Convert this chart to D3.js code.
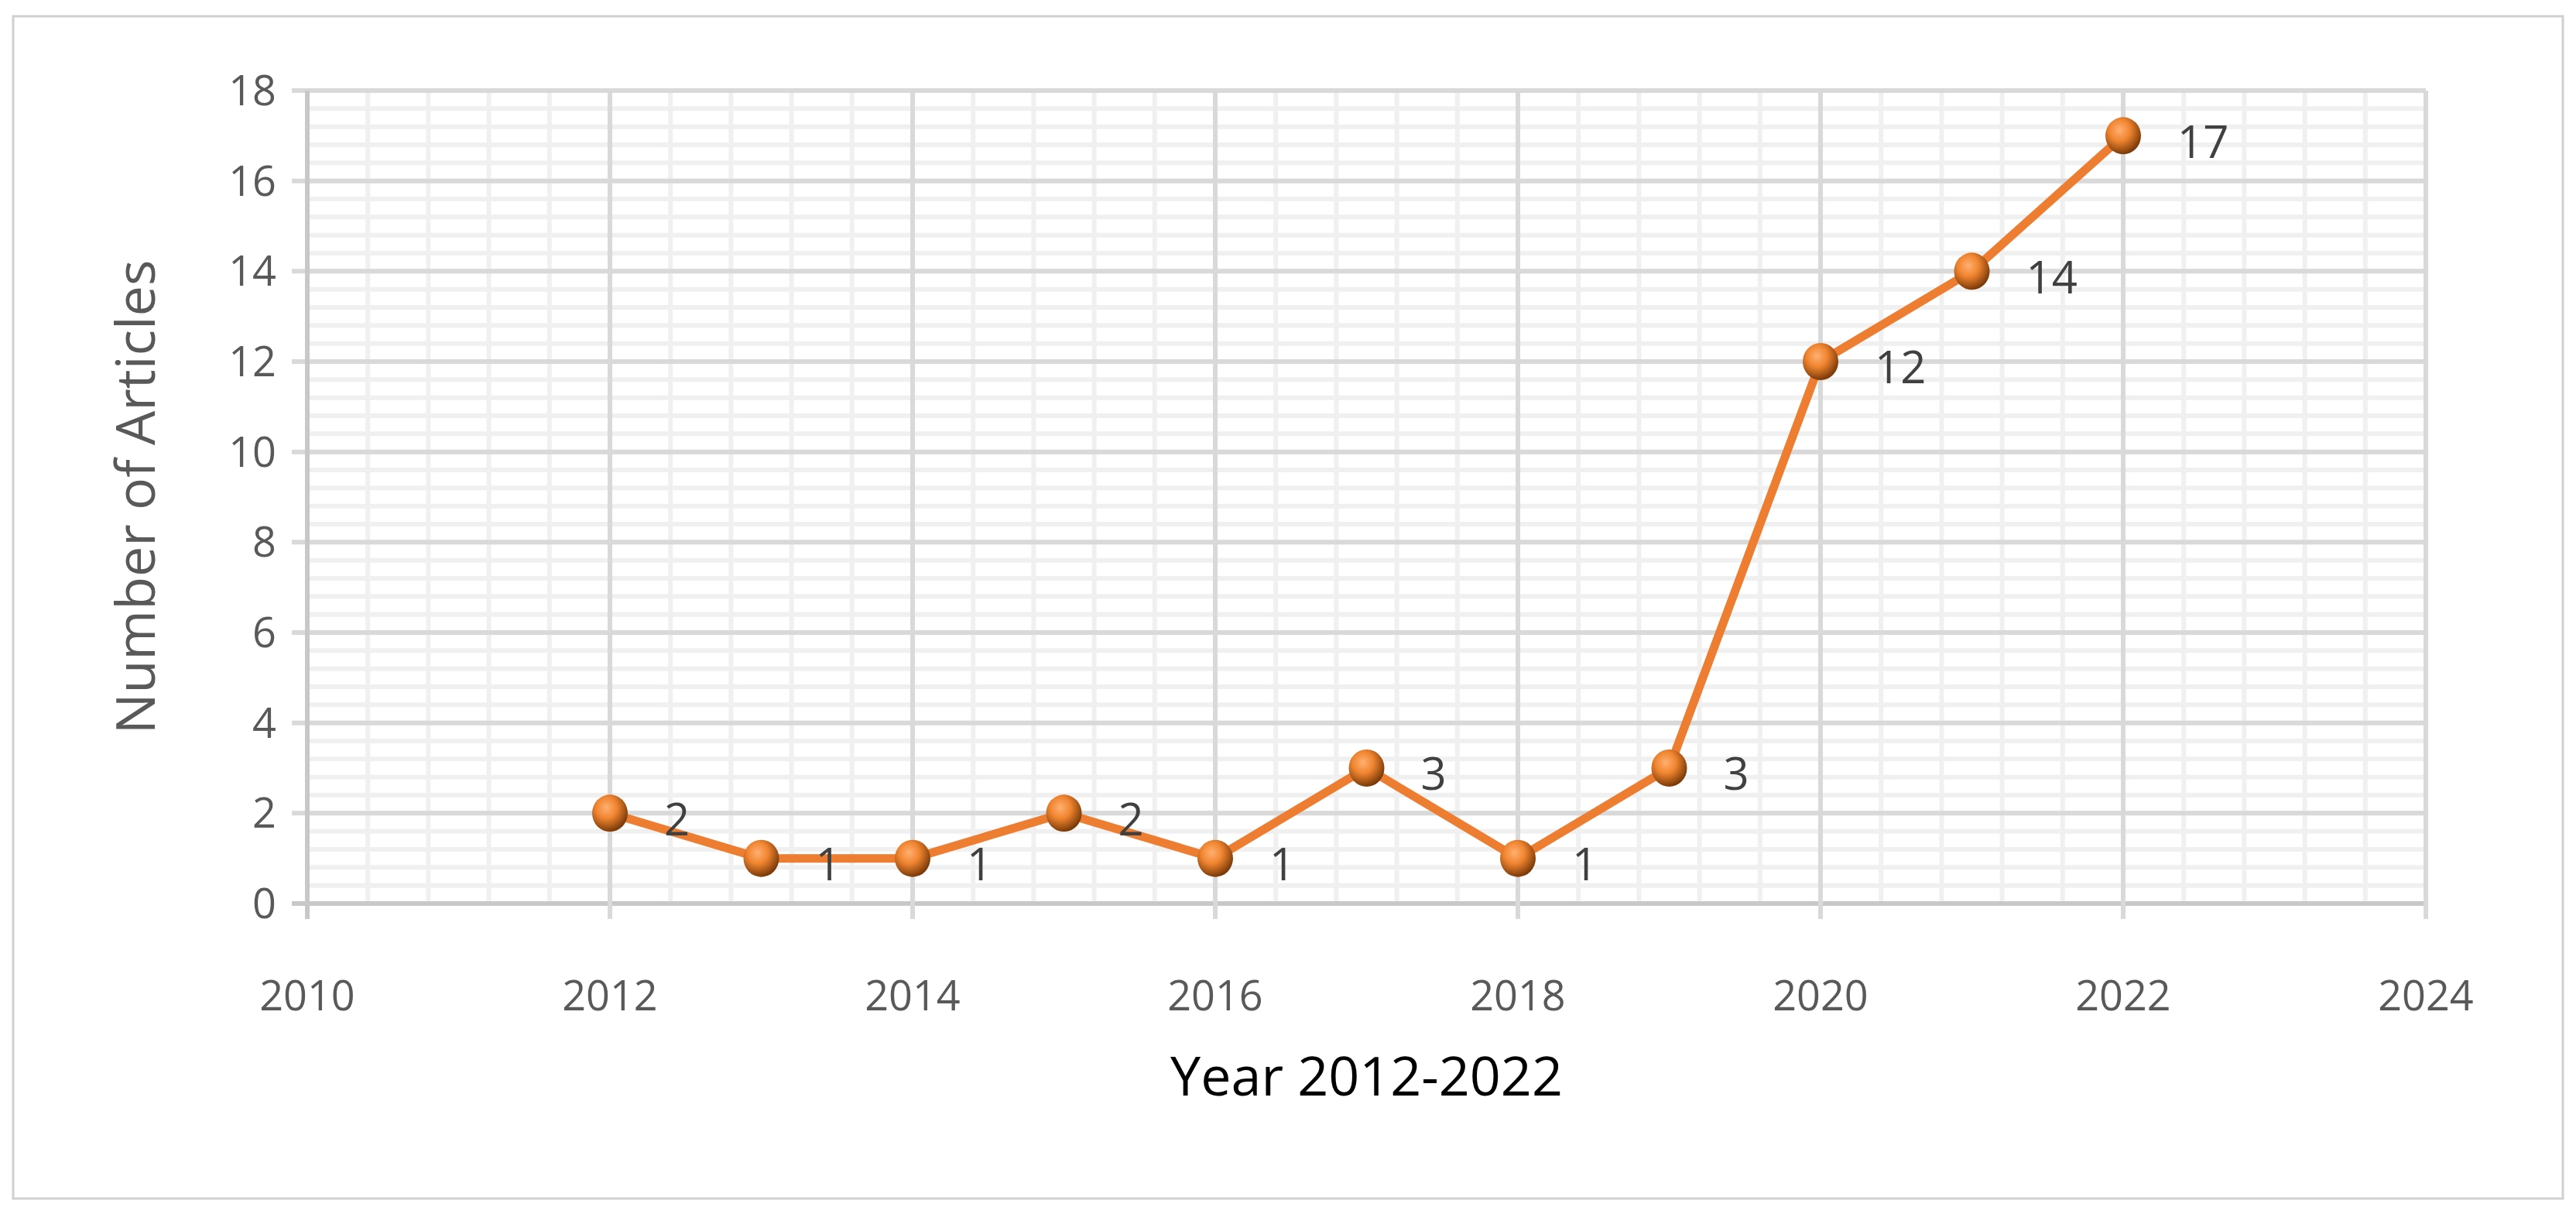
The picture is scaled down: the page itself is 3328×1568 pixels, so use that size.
<!DOCTYPE html>
<html><head><meta charset="utf-8">
<script src="https://cdn.jsdelivr.net/npm/d3@7"></script>
<style>body{margin:0;background:#fff}svg{display:block}</style>
</head><body><svg id="c" width="3328" height="1568"></svg>
<script>
const years = [2012, 2013, 2014, 2015, 2016, 2017, 2018, 2019, 2020, 2021, 2022];
const articles = [2, 1, 1, 2, 1, 3, 1, 3, 12, 14, 17];
const xTicks = [2010, 2012, 2014, 2016, 2018, 2020, 2022, 2024];
const yTicks = [0, 2, 4, 6, 8, 10, 12, 14, 16, 18];

const svg = d3.select('#c');
const font = '"Open Sans", Lato, sans-serif';
const m = {l: 397, r: 3134, t: 117, b: 1167};

svg.append('rect').attr('x', 17).attr('y', 21).attr('width', 3294).attr('height', 1527)
	.attr('fill', 'none').attr('stroke', '#d0d0d0').attr('stroke-width', 3);

const x = d3.scaleLinear().domain([2010, 2024]).range([m.l, m.r]);
const y = d3.scaleLinear().domain([0, 18]).range([m.b, m.t]);

const defs = svg.append('defs');
const g = defs.append('radialGradient').attr('id', 'ball').attr('cx', '40%').attr('cy', '35%').attr('r', '65%');
g.append('stop').attr('offset', '0%').attr('stop-color', '#ffb070');
g.append('stop').attr('offset', '45%').attr('stop-color', '#f08530');
g.append('stop').attr('offset', '100%').attr('stop-color', '#7a3a08');

const grid = svg.append('g');
// minor grid
d3.range(0, 18.01, 0.4).forEach(v => {
	grid.append('line').attr('x1', m.l).attr('x2', m.r).attr('y1', y(v)).attr('y2', y(v))
		.attr('stroke', '#f0f0f0').attr('stroke-width', 6);
});
d3.range(2010, 2024.01, 0.4).forEach(v => {
	grid.append('line').attr('y1', m.t).attr('y2', m.b).attr('x1', x(v)).attr('x2', x(v))
		.attr('stroke', '#f0f0f0').attr('stroke-width', 6);
});
// major grid
yTicks.forEach(v => {
	grid.append('line').attr('x1', m.l - 20).attr('x2', m.r).attr('y1', y(v)).attr('y2', y(v))
		.attr('stroke', v === 0 ? '#c8c8c8' : '#d9d9d9').attr('stroke-width', 6);
});
xTicks.forEach(v => {
	grid.append('line').attr('y1', m.t).attr('y2', m.b + 20).attr('x1', x(v)).attr('x2', x(v))
		.attr('stroke', v === 2010 ? '#c8c8c8' : '#d9d9d9').attr('stroke-width', 6);
});

svg.append('g').selectAll('text').data(yTicks).enter().append('text')
	.attr('x', m.l - 40).attr('y', d => y(d)).attr('dy', '0.35em').attr('text-anchor', 'end')
	.attr('font-family', font).attr('font-size', 54).attr('fill', '#595959').text(d => d);
svg.append('g').selectAll('text').data(xTicks).enter().append('text')
	.attr('x', d => x(d)).attr('y', 1305).attr('text-anchor', 'middle')
	.attr('font-family', font).attr('font-size', 54).attr('fill', '#595959').text(d => d);

svg.append('text').attr('x', x(2017)).attr('y', 1415).attr('text-anchor', 'middle')
	.attr('font-family', font).attr('font-size', 70).attr('fill', '#000').text('Year 2012-2022');
svg.append('text').attr('transform', `translate(200,${(m.t + m.b) / 2}) rotate(-90)`).attr('text-anchor', 'middle')
	.attr('font-family', font).attr('font-size', 70).attr('fill', '#595959').text('Number of Articles');

const pts = years.map((d, i) => [d, articles[i]]);
svg.append('path').datum(pts)
	.attr('d', d3.line().x(d => x(d[0])).y(d => y(d[1])))
	.attr('fill', 'none').attr('stroke', '#ed7d31').attr('stroke-width', 11).attr('stroke-linejoin', 'round');

svg.append('g').selectAll('ellipse').data(pts).enter().append('ellipse')
	.attr('cx', d => x(d[0])).attr('cy', d => y(d[1])).attr('rx', 23).attr('ry', 24)
	.attr('fill', 'url(#ball)');

svg.append('g').selectAll('text').data(pts).enter().append('text')
	.attr('x', d => x(d[0]) + 70).attr('y', d => y(d[1]) + 8).attr('dy', '0.35em')
	.attr('font-family', font).attr('font-size', 58).attr('fill', '#404040').text(d => d[1]);
</script></body></html>
